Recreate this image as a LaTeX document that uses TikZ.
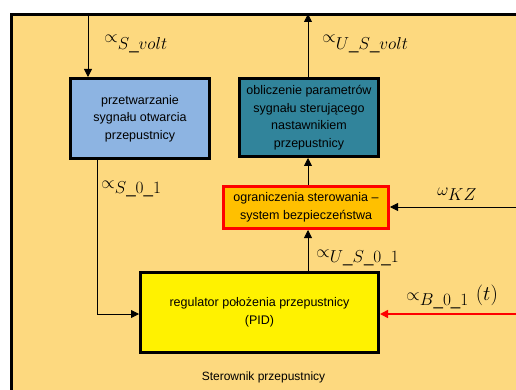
\documentclass[tikz,border=0pt]{standalone}
\usepackage{fontspec}
\setmainfont{Liberation Sans}
\DeclareMathSizes{17}{17}{16}{12}
\DeclareMathSizes{20}{20}{16}{12}
\usetikzlibrary{arrows.meta}
\definecolor{tlo}{HTML}{FDD97F}
\definecolor{niebieski}{HTML}{8DB4E2}
\definecolor{morski}{HTML}{31849B}
\definecolor{pomarancz}{HTML}{FFC000}
\begin{document}
\begin{tikzpicture}[x=1pt,y=-1pt,
  box/.style={draw,line width=3pt,align=center,font=\fontsize{12.5}{17.5}\selectfont,inner sep=2pt},
  lbl/.style={font=\fontsize{17}{19}\selectfont,anchor=base west,inner sep=0pt},
  >={Triangle[length=8pt,width=8pt]}, line width=0.8pt]
\useasboundingbox (0,0) rectangle (516,390);
\clip (0,0) rectangle (516,390);
% ramka sterownika
\draw[line width=3pt,fill=tlo] (11.5,14.5) rectangle (540,420);
\node[font=\fontsize{12}{14}\selectfont] (nazwa) at (263.5,377) {Sterownik przepustnicy};
% bloki
\node[box,fill=niebieski,minimum width=139pt,minimum height=80pt] (konw) at (140,118.5)
  {przetwarzanie\\sygnału otwarcia\\przepustnicy};
\node[box,fill=morski,minimum width=139pt,minimum height=78pt] (oblicz) at (309,117.5)
  {obliczenie parametrów\\sygnału sterującego\\nastawnikiem\\przepustnicy};
\node[box,draw=red,fill=pomarancz,minimum width=165pt,minimum height=42pt] (ogr) at (306,207.5)
  {ograniczenia sterowania --\\system bezpieczeństwa};
\node[box,fill=yellow,minimum width=238pt,minimum height=80pt] (pid) at (259.5,312.5)
  {regulator położenia przepustnicy\\(PID)};
% wolne konce
\coordinate (wej) at (88,14);
\coordinate (wyj) at (308,14);
\coordinate (kz) at (520,207);
\coordinate (zad) at (520,314);
\coordinate (zal) at (97,314);
% polaczenia
\draw[->] (wej) -- (wej |- konw.north);
\draw[->] (oblicz.north -| wyj) -- (wyj);
\draw[->] (ogr.north -| wyj) -- (oblicz.south -| wyj);
\draw[->] (pid.north -| wyj) -- (ogr.south -| wyj);
\draw[->] (konw.south -| zal) -- (zal) -- (zal -| pid.west);
\draw[->] (kz) -- (kz -| ogr.east);
\draw[->,red,line width=1.5pt] (zad) -- (zad -| pid.east);
% etykiety
\node[lbl] (l1) at (104,43) {$\propto_{S\_volt}$};
\node[lbl] (l2) at (322,43) {$\propto_{U\_S\_volt}$};
\node[lbl] (l3) at (101,188) {$\propto_{S\_0\_1}$};
\node[lbl] (l4) at (437,195) {$\omega_{KZ}$};
\node[lbl] (l5) at (316,257) {$\propto_{U\_S\_0\_1}$};
\node[lbl] (l6) at (406,300) {$\propto_{B\_0\_1}$\hspace{7pt}{\fontsize{20}{22}\selectfont$(t)$}};
\end{tikzpicture}
\end{document}
